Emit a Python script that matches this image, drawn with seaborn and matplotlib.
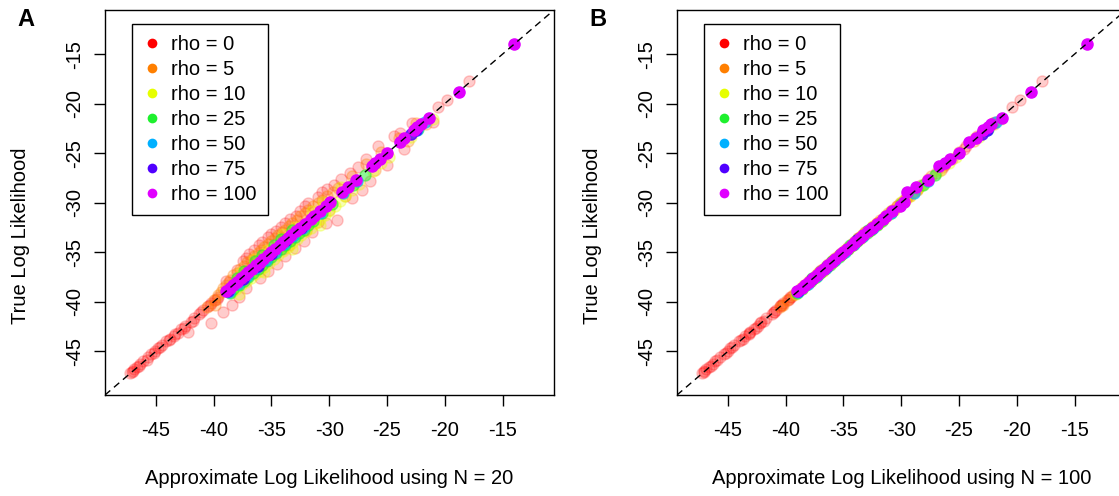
import numpy as np
import pandas as pd
import matplotlib
matplotlib.use("Agg")
import matplotlib.pyplot as plt
from matplotlib.lines import Line2D
import seaborn as sns

# ---------------- data ----------------
rho_levels = [0, 5, 10, 25, 50, 75, 100]
rho_colors = ["#FF0000", "#FF7F00", "#E6FF00", "#1EF02E", "#00B0FF", "#5000FF", "#E000FF"]
rho_alpha = [0.2, 0.28, 0.3, 0.5, 0.6, 0.8, 1.0]

rho0_true = [-47.2, -46.8, -46.3, -45.6, -45.0, -44.4, -43.7, -43.1, -42.4, -41.6, -40.8, -40.1, -39.5,
             -47.0, -46.6, -46.0, -45.3, -44.7, -44.0, -43.4, -42.7, -42.0, -41.2, -40.4, -39.8,
             -47.1, -46.5, -45.9, -45.2, -44.6, -43.9, -43.2, -42.6, -41.9, -41.0, -40.3, -39.7,
             -43.0, -42.1, -41.0, -40.3, -39.5,
             -36.8, -35.6, -34.8, -34.0, -33.2, -32.4, -31.6, -30.8, -30.0, -29.4, -28.6, -27.6, -27.0, -24.3, -25.6,
             -37.6, -36.2, -34.6, -33.0, -31.7, -29.5, -27.8, -26.2, -24.6,
             -17.7, -19.6, -20.3, -21.9, -22.0, -23.0, -37.9, -36.9, -35.9, -33.6,
             -35.9, -35.2, -34.3, -33.5, -32.9, -32.0, -31.3, -30.3, -28.9, -28.2, -26.4, -23.3,
             -38.6, -36.9, -35.4, -33.9, -32.0, -28.7, -38.0]
rho0_n20 = [-47.2, -46.9, -46.4, -45.7, -45.1, -44.5, -43.8, -43.1, -42.5, -41.7, -40.9, -40.2, -39.6,
            -47.0, -46.6, -46.1, -45.4, -44.8, -44.1, -43.4, -42.8, -42.0, -41.3, -40.5, -39.9,
            -47.1, -46.5, -45.8, -45.2, -44.6, -43.9, -43.3, -42.6, -41.8, -41.1, -40.3, -39.7,
            -42.2, -40.2, -39.2, -38.4, -37.8,
            -38.0, -37.2, -36.5, -35.8, -35.0, -34.2, -33.4, -32.5, -31.8, -31.0, -30.2, -29.0, -28.2, -25.8, -26.8,
            -36.0, -34.5, -33.0, -31.5, -29.3, -28.0, -26.5, -25.0, -23.5,
            -17.9, -19.8, -20.6, -21.0, -22.8, -23.9, -38.9, -37.0, -35.5, -34.0,
            -37.5, -36.9, -36.1, -35.3, -34.6, -33.8, -32.9, -32.1, -30.6, -29.6, -27.5, -24.4,
            -37.2, -35.3, -33.8, -32.2, -30.3, -27.2, -38.7]
rho0_n100 = [-47.2, -46.9, -46.3, -45.7, -45.0, -44.5, -43.7, -43.2, -42.4, -41.7, -40.8, -40.2, -39.5,
             -47.1, -46.6, -46.1, -45.3, -44.8, -44.0, -43.5, -42.7, -42.1, -41.2, -40.5, -39.8,
             -47.1, -46.5, -45.9, -45.2, -44.6, -43.9, -43.2, -42.6, -41.9, -41.0, -40.3, -39.7,
             -43.1, -42.2, -41.0, -40.4, -39.6,
             -36.9, -35.7, -34.8, -34.1, -33.2, -32.5, -31.6, -30.9, -30.0, -29.5, -28.6, -27.7, -27.0, -24.4, -25.6,
             -37.6, -36.3, -34.6, -33.1, -31.7, -29.6, -27.8, -26.3, -24.6,
             -17.8, -19.7, -20.4, -21.9, -22.1, -23.0, -37.9, -37.0, -35.9, -33.7,
             -36.0, -35.3, -34.3, -33.6, -32.9, -32.1, -31.3, -30.4, -28.9, -28.3, -26.4, -23.4,
             -38.6, -36.8, -35.4, -33.8, -32.0, -28.6, -38.1]

rho5_true = [-39.8, -39.3, -38.6, -37.8, -37.1, -36.4, -35.8, -35.1, -34.5, -33.9, -33.3, -32.7, -32.0,
             -31.3, -30.7, -30.0, -29.3, -28.5, -27.3, -26.1, -24.9, -23.5, -22.0,
             -34.3, -31.9, -29.3, -26.7, -23.8, -22.1, -40.5, -40.3, -37.3, -35.2,
             -37.3, -36.7, -36.0, -35.4, -34.8, -34.2, -33.6, -33.0, -32.3, -31.7, -31.0, -30.3, -29.7, -28.9,
             -39.0, -38.3, -36.6, -34.7, -32.8, -30.7]
rho5_n20 = [-40.0, -39.6, -39.2, -38.6, -38.0, -37.4, -36.8, -36.2, -35.6, -35.0, -34.4, -33.8, -33.2,
            -32.5, -31.8, -31.0, -30.2, -29.2, -28.0, -26.8, -25.5, -24.0, -22.5,
            -33.5, -31.0, -28.6, -26.0, -23.2, -21.6, -40.6, -39.9, -37.0, -35.0,
            -38.3, -37.7, -37.1, -36.5, -35.9, -35.3, -34.7, -34.1, -33.5, -32.8, -32.1, -31.4, -30.6, -29.7,
            -39.4, -38.9, -36.0, -34.0, -32.0, -30.0]
rho5_n100 = [-39.9, -39.4, -38.7, -37.9, -37.2, -36.5, -35.9, -35.2, -34.6, -34.0, -33.4, -32.8, -32.1,
             -31.4, -30.8, -30.1, -29.4, -28.6, -27.4, -26.2, -25.0, -23.6, -22.1,
             -34.2, -31.8, -29.2, -26.6, -23.7, -22.0, -40.5, -40.2, -37.2, -35.1,
             -37.4, -36.8, -36.1, -35.5, -34.9, -34.3, -33.7, -33.1, -32.4, -31.8, -31.1, -30.4, -29.8, -29.0,
             -39.1, -38.4, -36.5, -34.6, -32.7, -30.6]

rho10_true = [-39.0, -38.3, -37.6, -36.9, -36.1, -35.3, -34.5, -33.7, -32.9, -32.0, -31.2, -30.3, -29.3,
              -28.1, -26.8, -25.4, -23.4, -21.5, -35.7, -33.2, -30.8, -28.4, -39.2, -37.0, -34.7, -32.2,
              -38.7, -38.0, -37.2, -36.5, -35.7, -34.9, -34.1, -33.3, -32.5, -31.6, -30.8, -29.8,
              -37.0, -34.8, -32.4, -29.9, -28.7, -26.0]
rho10_n20 = [-38.4, -37.6, -36.8, -36.0, -35.2, -34.4, -33.6, -32.8, -32.0, -31.2, -30.4, -29.5, -28.6,
             -27.4, -26.2, -24.8, -22.9, -21.0, -36.5, -34.0, -31.5, -29.0, -37.8, -35.6, -33.2, -30.8,
             -38.1, -37.2, -36.4, -35.6, -34.8, -34.0, -33.2, -32.4, -31.6, -30.8, -30.0, -29.1,
             -37.6, -35.4, -33.0, -30.5, -28.0, -25.5]
rho10_n100 = [-38.9, -38.2, -37.5, -36.8, -36.0, -35.2, -34.4, -33.6, -32.8, -31.9, -31.1, -30.2, -29.2,
              -28.0, -26.7, -25.3, -23.3, -21.4, -35.8, -33.3, -30.9, -28.5, -39.1, -36.9, -34.6, -32.1,
              -38.6, -37.9, -37.1, -36.4, -35.6, -34.8, -34.0, -33.2, -32.4, -31.5, -30.7, -29.7,
              -37.1, -34.9, -32.5, -30.0, -28.6, -25.9]

rho25_true = [-39.1, -38.3, -37.5, -36.7, -35.9, -35.1, -34.3, -33.5, -32.7, -31.8, -31.0, -30.1, -28.2,
              -27.2, -22.6, -36.9, -35.3, -33.7,
              -38.7, -37.9, -37.1, -36.3, -35.5, -34.7, -33.9, -33.1, -32.2, -37.6, -35.9, -34.3, -32.8]
rho25_n20 = [-38.6, -37.8, -37.0, -36.2, -35.4, -34.6, -33.8, -33.0, -32.2, -31.4, -30.6, -29.8, -27.9,
             -26.9, -22.3, -37.4, -35.8, -34.2,
             -38.3, -37.4, -36.6, -35.8, -35.0, -34.2, -33.4, -32.6, -31.8, -38.0, -36.4, -34.8, -33.2]
rho25_n100 = [-39.0, -38.2, -37.4, -36.6, -35.8, -35.0, -34.2, -33.4, -32.6, -31.7, -30.9, -30.0, -28.1,
              -27.1, -22.5, -36.9, -35.3, -33.7,
              -38.6, -37.8, -37.0, -36.2, -35.4, -34.6, -33.8, -33.0, -32.1, -37.7, -36.0, -34.4, -32.9]

rho50_true = [-39.0, -38.2, -37.4, -36.6, -35.8, -35.0, -34.2, -33.4, -32.5, -31.0, -29.0, -27.8, -22.7, -21.9]
rho50_n20 = [-38.7, -37.9, -37.1, -36.3, -35.5, -34.7, -33.9, -33.1, -32.3, -30.8, -28.8, -27.6, -22.4, -21.7]
rho50_n100 = [-38.9, -38.1, -37.3, -36.5, -35.7, -34.9, -34.1, -33.3, -32.4, -30.9, -28.9, -27.7, -22.6, -21.8]

rho75_true = [-38.9, -37.7, -36.4, -35.2, -33.8, -32.5, -23.1, -22.7]
rho75_n20 = [-38.8, -37.5, -36.2, -35.0, -33.7, -32.4, -22.9, -22.5]
rho75_n100 = [-38.9, -37.7, -36.4, -35.2, -33.8, -32.5, -23.0, -22.6]

rho100_true = [-14.0, -18.8, -21.4, -22.1, -22.4, -22.7, -23.5, -23.9, -25.0, -25.6, -26.0, -26.3, -27.7,
               -28.4, -28.9, -29.9, -30.3, -30.8, -31.3, -31.6, -32.1, -32.5, -32.9, -33.3, -33.6, -34.0,
               -34.3, -34.7, -35.0, -35.3, -35.7, -36.0, -36.3, -36.7, -37.0, -37.3, -37.6, -38.0, -38.3,
               -38.6, -38.9]
rho100_n20 = [-14.0, -18.8, -21.4, -22.1, -22.4, -22.7, -23.5, -23.9, -25.0, -25.6, -26.0, -26.3, -27.7,
              -28.4, -28.9, -29.9, -30.3, -30.8, -31.3, -31.6, -32.1, -32.5, -32.9, -33.3, -33.6, -34.0,
              -34.3, -34.7, -35.0, -35.3, -35.7, -36.0, -36.3, -36.7, -37.0, -37.3, -37.6, -38.0, -38.3,
              -38.6, -38.9]
rho100_n100 = [-13.9, -18.8, -21.3, -22.2, -22.5, -22.9, -23.5, -24.1, -25.0, -25.8, -26.2, -26.7, -27.7,
               -28.7, -29.5, -29.8, -30.1, -30.8, -31.3, -31.6, -32.1, -32.5, -32.9, -33.3, -33.6, -34.0,
               -34.3, -34.7, -35.0, -35.3, -35.7, -36.0, -36.3, -36.7, -37.0, -37.3, -37.6, -38.0, -38.3,
               -38.6, -39.0]

true_by_rho = [rho0_true, rho5_true, rho10_true, rho25_true, rho50_true, rho75_true, rho100_true]
n20_by_rho = [rho0_n20, rho5_n20, rho10_n20, rho25_n20, rho50_n20, rho75_n20, rho100_n20]
n100_by_rho = [rho0_n100, rho5_n100, rho10_n100, rho25_n100, rho50_n100, rho75_n100, rho100_n100]

x_ticks = [-45, -40, -35, -30, -25, -20, -15]
axis_lim = (-49.4, -10.55)
panel_letters = ["A", "B"]
x_labels = ["Approximate Log Likelihood using N = 20", "Approximate Log Likelihood using N = 100"]
y_label = "True Log Likelihood"

# ---------------- table ----------------
rows = []
for rho, t, a20, a100 in zip(rho_levels, true_by_rho, n20_by_rho, n100_by_rho):
    for yv, x1, x2 in zip(t, a20, a100):
        rows.append({"rho": rho, "true": yv, "N20": x1, "N100": x2})
df = pd.DataFrame(rows)

# ---------------- style ----------------
sns.set_theme(style="white")
plt.rcParams["font.family"] = ["Liberation Sans", "DejaVu Sans"]
plt.rcParams["text.color"] = "black"
plt.rcParams["axes.edgecolor"] = "black"
plt.rcParams["axes.unicode_minus"] = False

W, H = 1119, 496
fig = plt.figure(figsize=(W / 100, H / 100), dpi=100)

ax_left_px = [105, 677]
ax_top_px, ax_bot_px, ax_w_px = 10, 395, 449

for i, (col, xl) in enumerate(zip(["N20", "N100"], x_labels)):
    l = ax_left_px[i]
    ax = fig.add_axes([l / W, 1 - ax_bot_px / H, ax_w_px / W, (ax_bot_px - ax_top_px) / H])
    for rho, c, a in zip(rho_levels, rho_colors, rho_alpha):
        sub = df[df["rho"] == rho]
        sns.scatterplot(data=sub, x=col, y="true", color=c, alpha=a, s=64,
                        edgecolor=c, linewidth=1.0, ax=ax, legend=False, zorder=2)
    ax.axline((-30, -30), slope=1, color="black", lw=1.0, dashes=(5, 3.5), zorder=5)
    ax.set_xlim(*axis_lim)
    ax.set_ylim(*axis_lim)
    ax.set_xticks(x_ticks)
    ax.set_yticks(x_ticks)
    ax.set_xlabel("")
    ax.set_ylabel("")
    ax.tick_params(axis="both", which="major", direction="out", length=8, width=1,
                   color="black", labelsize=14.5, labelcolor="black", bottom=True, left=True)
    ax.tick_params(axis="x", pad=11)
    ax.tick_params(axis="y", pad=7, labelrotation=90)
    for lab in ax.get_yticklabels():
        lab.set_va("center")
    for sp in ax.spines.values():
        sp.set_linewidth(1.0)
        sp.set_color("black")

    handles = [Line2D([], [], marker="o", linestyle="", color=c, markersize=7,
                      markeredgewidth=0) for c in rho_colors]
    labels = [f"rho = {r}" for r in rho_levels]
    leg = ax.legend(handles, labels, loc="upper left", bbox_to_anchor=(0.060, 0.964),
                    borderaxespad=0, fontsize=14.5, frameon=True, fancybox=False,
                    edgecolor="black", framealpha=1, borderpad=0.55, labelspacing=0.3,
                    handlelength=0.9, handletextpad=0.5)
    leg.get_frame().set_linewidth(1.0)

    # axis labels and panel letters
    cx = (l + ax_w_px / 2) / W
    fig.text(cx, 1 - 478 / H, xl, ha="center", va="center", fontsize=14.5)
    fig.text((l - 84.5) / W, 1 - 236 / H, y_label, ha="center", va="center",
             rotation=90, fontsize=14.5)
    fig.text((l - 88) / W, 1 - 19 / H, panel_letters[i], ha="left", va="center",
             fontsize=17, fontweight="bold")

fig.savefig("out.png", dpi=100)
